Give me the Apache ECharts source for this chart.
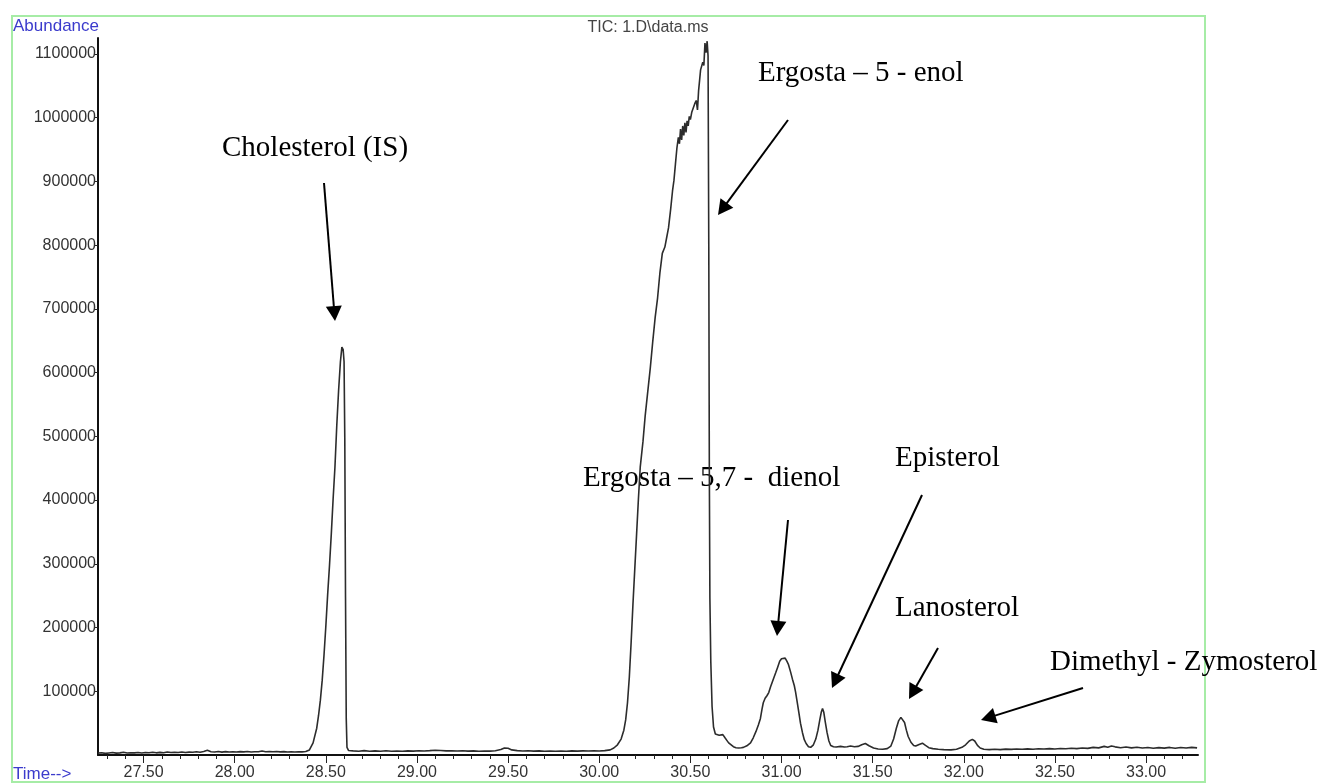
<!DOCTYPE html>
<html><head><meta charset="utf-8">
<script src="https://cdn.jsdelivr.net/npm/echarts@6/dist/echarts.min.js"></script>
<style>html,body{margin:0;padding:0;background:#fff}#c{width:1322px;height:783px}</style>
</head><body><div id="c"></div>
<script>
// TIC trace: [retention time (min), abundance]
const ticTrace = [
[27.25,3000],[27.27,3500],[27.29,2600],[27.31,3200],[27.33,3800],[27.35,3000],[27.37,3400],[27.39,4200],[27.41,3100],[27.43,3600],
[27.45,3300],[27.47,4000],[27.49,3200],[27.51,3800],[27.53,3500],[27.55,4300],[27.57,3400],[27.59,4100],[27.61,3600],[27.63,4600],
[27.65,3900],[27.67,4400],[27.69,3800],[27.71,4700],[27.73,4000],[27.75,4500],[27.77,4200],[27.79,5000],[27.81,4400],[27.83,5600],
[27.85,7500],[27.87,5200],[27.89,4600],[27.91,5400],[27.93,4500],[27.95,5300],[27.97,4800],[27.99,5100],[28.01,4600],[28.03,5300],
[28.05,4900],[28.07,5500],[28.09,4800],[28.11,5200],[28.13,5000],[28.15,6300],[28.17,5100],[28.19,5600],[28.21,5000],[28.23,5400],
[28.25,4900],[28.27,5300],[28.29,4700],[28.31,5100],[28.33,4800],[28.35,5000],[28.37,4900],[28.39,5400],
[28.41,8000],[28.43,19000],[28.45,42000],[28.46,62000],[28.47,86000],[28.48,117000],[28.49,157000],[28.50,202000],[28.51,252000],[28.52,297000],
[28.53,347000],[28.54,402000],[28.55,452000],[28.56,517000],[28.57,572000],[28.58,617000],[28.588,640000],[28.595,636000],[28.600,617000],[28.604,497000],
[28.608,247000],[28.612,57000],[28.616,12000],[28.625,7000],[28.65,6500],
[28.68,6000],[28.71,6800],[28.74,5800],[28.77,6400],[28.80,5900],[28.83,6600],[28.86,6000],[28.89,6300],[28.92,5800],[28.95,6500],
[28.98,6100],[29.01,6700],[29.04,6200],[29.07,6800],[29.10,7500],[29.13,7000],[29.16,6400],[29.19,6700],[29.22,6200],[29.25,6600],
[29.28,6100],[29.31,6400],[29.34,6000],[29.37,6300],[29.40,6100],[29.43,6600],[29.46,8500],[29.48,11000],[29.50,10500],[29.52,8000],
[29.55,6800],[29.58,6300],[29.61,6600],[29.64,6100],[29.67,6400],[29.70,6000],[29.73,6300],[29.76,5900],[29.79,6200],[29.82,6000],
[29.85,6400],[29.88,6100],[29.91,6500],[29.94,6200],[29.97,6600],[30.00,6300],[30.03,6800],
[30.06,8000],[30.08,11000],[30.10,16000],[30.12,25000],[30.135,39000],[30.145,55000],[30.155,82000],[30.165,122000],[30.175,177000],[30.185,237000],
[30.195,292000],[30.205,347000],[30.215,402000],[30.225,452000],[30.24,492000],[30.252,532000],[30.265,567000],[30.28,607000],[30.293,647000],[30.307,687000],
[30.32,717000],[30.333,757000],[30.346,787000],[30.36,797000],[30.37,812000],[30.38,827000],[30.392,857000],[30.402,885000],[30.41,902000],[30.418,927000],
[30.426,952000],[30.434,969000],[30.44,959000],[30.446,982000],[30.452,965000],[30.458,987000],[30.464,972000],[30.47,992000],[30.476,977000],[30.482,995000],
[30.488,987000],[30.494,1002000],[30.50,997000],[30.508,1009000],[30.516,1007000],[30.524,1022000],[30.532,1027000],[30.539,1012000],[30.545,1042000],[30.55,1057000],
[30.556,1075000],[30.562,1072000],[30.568,1087000],[30.574,1082000],[30.58,1117000],[30.586,1102000],[30.592,1120000],[30.597,1097000],[30.601,797000],[30.604,447000],
[30.607,247000],[30.612,147000],[30.619,76000],[30.627,44000],[30.637,33000],[30.646,30000],[30.658,31000],[30.668,34000],[30.678,32000],[30.69,27000],
[30.70,23000],[30.71,19000],[30.72,16000],[30.736,13000],[30.75,11500],[30.765,11000],[30.78,11500],[30.791,12000],
[30.81,14500],[30.83,19000],[30.845,27000],[30.86,37000],[30.873,47000],[30.884,57000],[30.893,72000],[30.90,82000],[30.91,89000],[30.92,93000],
[30.93,98000],[30.94,107000],[30.955,119000],[30.968,129000],[30.978,137000],[30.99,147000],[31.00,151000],[31.01,154000],[31.02,152000],[31.03,147000],
[31.038,142000],[31.05,130000],[31.06,119000],[31.07,109000],[31.077,99000],[31.085,85000],[31.095,67000],[31.104,50000],[31.115,35000],[31.125,24000],
[31.135,18000],[31.148,13000],[31.16,12000],[31.175,16000],[31.188,25000],[31.20,39000],[31.21,55000],[31.218,67000],[31.225,73000],[31.232,67000],
[31.24,52000],[31.25,35000],[31.26,22000],[31.27,15000],[31.285,13000],[31.30,12500],[31.324,13500],[31.345,12500],[31.36,13000],[31.379,14000],
[31.40,13000],[31.42,13500],[31.44,16000],[31.46,18000],[31.48,14500],[31.505,11000],[31.53,9500],[31.555,9000],[31.58,10000],[31.60,14000],
[31.615,25000],[31.63,42000],[31.643,54000],[31.655,59000],[31.665,60000],[31.675,51000],[31.685,39000],[31.695,29000],[31.71,20000],[31.725,15000],
[31.736,14000],[31.755,16500],[31.773,18500],[31.79,15000],[31.808,11500],[31.83,10000],[31.86,9000],[31.89,8500],[31.93,8000],[31.96,9000],
[31.99,12000],[32.01,16000],[32.03,22000],[32.047,24500],[32.06,22000],[32.075,15000],[32.09,11000],[32.11,9000],[32.14,8500],
[32.17,9000],[32.20,8500],[32.23,9200],[32.26,8800],[32.29,9500],[32.32,9000],[32.35,9600],[32.38,9100],[32.41,9800],[32.44,9300],
[32.47,10000],[32.50,9400],[32.53,10200],[32.56,9700],[32.59,10600],[32.62,10000],[32.65,11000],[32.68,10400],[32.71,12000],[32.74,11200],
[32.77,13500],[32.79,12200],[32.81,14200],[32.83,12800],[32.86,11500],[32.89,12600],[32.92,11200],[32.95,12200],[32.98,10900],[33.01,11800],
[33.04,10600],[33.07,11600],[33.10,10800],[33.13,11900],[33.16,10500],[33.19,11700],[33.22,10900],[33.25,12000],[33.28,11200]
];
const xMajorTicks = [27.5, 28.0, 28.5, 29.0, 29.5, 30.0, 30.5, 31.0, 31.5, 32.0, 32.5, 33.0];
const xMinorTicks = [27.3,27.4,27.5,27.6,27.7,27.8,27.9,28.0,28.1,28.2,28.3,28.4,28.5,28.6,28.7,28.8,28.9,29.0,29.1,29.2,29.3,29.4,29.5,29.6,29.7,29.8,29.9,
  30.0,30.1,30.2,30.3,30.4,30.5,30.6,30.7,30.8,30.9,31.0,31.1,31.2,31.3,31.4,31.5,31.6,31.7,31.8,31.9,32.0,32.1,32.2,32.3,32.4,32.5,32.6,32.7,32.8,32.9,33.0,33.1,33.2];
const yTicks = [100000,200000,300000,400000,500000,600000,700000,800000,900000,1000000,1100000];
const peakLabels = ["Cholesterol (IS)", "Ergosta \u2013 5 - enol", "Ergosta \u2013 5,7 -  dienol", "Episterol", "Lanosterol", "Dimethyl - Zymosterol"];
const titleText = "TIC: 1.D\\data.ms";
const yName = "Abundance";
const xName = "Time-->";

// annotation layout (pixels)
const labelPos = [[222,148],[758,73],[583,478],[895,458],[895,608],[1050,662]];
const arrowPos = [
  [324,183,335,321],[788,120,718,215],[788,520,777,636],[922,495,832,688],[938,648,909,699],[1083,688,981,720]
];

function arrow(a){
  const [x1,y1,x2,y2]=a, L=15, W=8;
  const dx=x2-x1, dy=y2-y1, len=Math.hypot(dx,dy), ux=dx/len, uy=dy/len;
  const bx=x2-ux*L, by=y2-uy*L, px=-uy, py=ux;
  return [
    {type:'line', silent:true, shape:{x1:x1,y1:y1,x2:bx+ux*2,y2:by+uy*2}, style:{stroke:'#000', lineWidth:2}},
    {type:'polygon', silent:true, shape:{points:[[x2,y2],[bx+px*W,by+py*W],[bx-px*W,by-py*W]]}, style:{fill:'#000'}}
  ];
}
function txt(s,x,y,font,color,align){
  return {type:'text', silent:true, x:x, y:y, style:{text:s, font:font, fill:color, textAlign:align||'left', align:align||'left', textVerticalAlign:'middle', verticalAlign:'middle'}};
}

const graphics = [
  {type:'rect', silent:true, shape:{x:12,y:16,width:1193,height:766}, style:{fill:'none', stroke:'#a6eca6', lineWidth:2}},
  txt(yName, 13, 26, '17px "Liberation Sans", Arial, sans-serif', '#3b3bcc'),
  txt(xName, 13, 774, '17px "Liberation Sans", Arial, sans-serif', '#3b3bcc'),
  txt(titleText, 648, 28, '16px "Liberation Sans", Arial, sans-serif', '#444', 'center')
];
peakLabels.forEach((s,i)=>graphics.push(txt(s, labelPos[i][0], labelPos[i][1], '29px "Liberation Serif", "Times New Roman", serif', '#000')));
arrowPos.forEach(a=>arrow(a).forEach(g=>graphics.push(g)));

const chart = echarts.init(document.getElementById('c'), null, {renderer:'canvas'});
const axisFont = {fontFamily:'"Liberation Sans", Arial, sans-serif', fontSize:16, color:'#333'};
chart.setOption({
  animation:false,
  backgroundColor:'#fff',
  grid:{left:98, right:124, top:38, bottom:28, containLabel:false},
  xAxis:[{
    type:'value', min:27.25, max:33.285, position:'bottom',
    axisLine:{show:true, onZero:false, lineStyle:{color:'#111', width:2}},
    axisTick:{show:true, customValues:xMinorTicks, length:4, lineStyle:{color:'#222', width:1}},
    axisLabel:Object.assign({show:true, customValues:xMajorTicks, margin:10, formatter:v=>v.toFixed(2)}, axisFont),
    splitLine:{show:false}
  },{
    type:'value', min:27.25, max:33.285, position:'bottom', offset:0,
    axisLine:{show:false, onZero:false},
    axisTick:{show:true, customValues:xMajorTicks, length:8, lineStyle:{color:'#222', width:1}},
    axisLabel:{show:false}, splitLine:{show:false}
  }],
  yAxis:{
    type:'value', min:0, max:1125000,
    axisLine:{show:true, onZero:false, lineStyle:{color:'#111', width:2}},
    axisTick:{show:true, customValues:yTicks, length:3, lineStyle:{color:'#222', width:1}},
    axisLabel:Object.assign({show:true, customValues:yTicks, margin:2, formatter:v=>String(v)}, axisFont),
    splitLine:{show:false}
  },
  series:[{
    type:'line', data:ticTrace, showSymbol:false, symbol:'none', smooth:false,
    lineStyle:{color:'#2c2c2c', width:1.6}, silent:true, clip:true
  }],
  graphic:graphics
});
</script>
</body></html>
